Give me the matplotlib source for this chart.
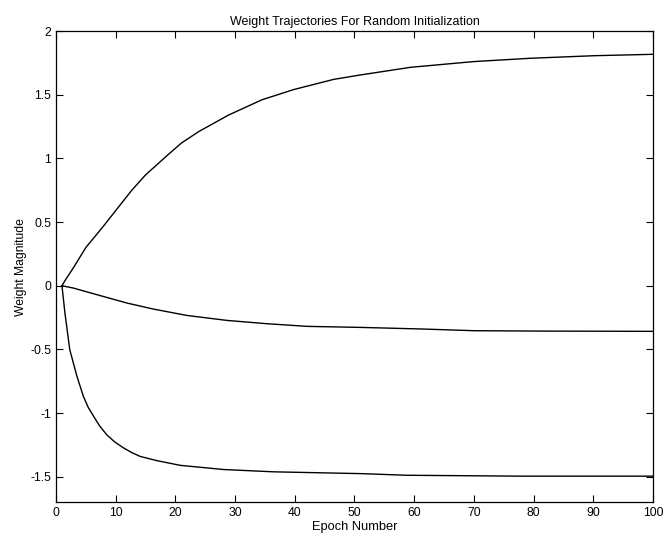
import matplotlib
matplotlib.use("Agg")
import matplotlib.pyplot as plt

plt.rcParams['font.family'] = ['Liberation Sans', 'DejaVu Sans']

# Weight trajectories (epoch, weight value) for the three weights
epoch_w1 = [1, 1.5, 2.9, 5.0, 7.9, 10.0, 12.7, 15.0, 18.8, 21.0, 23.9, 28.9, 34.5, 39.8, 46.5, 51, 59.4, 70, 79.5, 90.1, 100]
w1 = [0.0, 0.04, 0.14, 0.30, 0.465, 0.59, 0.75, 0.87, 1.03, 1.12, 1.21, 1.34, 1.46, 1.54, 1.62, 1.655, 1.715, 1.76, 1.786, 1.806, 1.817]

epoch_w2 = [1, 2.9, 6.3, 11.9, 16.3, 21.9, 28.6, 35.3, 42.1, 51, 61.6, 70, 81.2, 100]
w2 = [0.0, -0.018, -0.063, -0.136, -0.183, -0.233, -0.272, -0.298, -0.319, -0.327, -0.34, -0.353, -0.356, -0.358]

epoch_w3 = [1, 1.5, 2.3, 3.5, 4.6, 5.4, 6.3, 7.3, 8.5, 9.8, 11.3, 12.7, 14.1, 16.9, 20.8, 28.1, 36.5, 51, 58.8, 77.9, 100]
w3 = [0.0, -0.215, -0.5, -0.71, -0.87, -0.955, -1.025, -1.10, -1.17, -1.225, -1.273, -1.31, -1.34, -1.373, -1.41, -1.443, -1.461, -1.475, -1.488, -1.495, -1.495]

x_ticks = [0, 10, 20, 30, 40, 50, 60, 70, 80, 90, 100]
y_ticks = [-1.5, -1, -0.5, 0, 0.5, 1, 1.5, 2]
y_labels = ["-1.5", "-1", "-0.5", "0", "0.5", "1", "1.5", "2"]

fig = plt.figure(figsize=(6.65, 5.42), dpi=100)
ax = fig.add_axes([0.0842, 0.0733, 0.8977, 0.8695])

for ep, w in ((epoch_w1, w1), (epoch_w2, w2), (epoch_w3, w3)):
    ax.plot(ep, w, color="black", linewidth=1.0)

ax.set_xlim(0, 100)
ax.set_ylim(-1.7, 2)
ax.set_xticks(x_ticks)
ax.set_yticks(y_ticks)
ax.set_yticklabels(y_labels)
ax.tick_params(direction="in", length=5, width=0.8, top=True, right=True,
               labelsize=8.7, colors="black")
for s in ax.spines.values():
    s.set_linewidth(0.9)
    s.set_color("black")

ax.set_title("Weight Trajectories For Random Initialization", fontsize=9, pad=4)
ax.set_xlabel("Epoch Number", fontsize=9.3, labelpad=1)
ax.set_ylabel("Weight Magnitude", fontsize=8.7, labelpad=2)

fig.savefig("out.png", dpi=100)
